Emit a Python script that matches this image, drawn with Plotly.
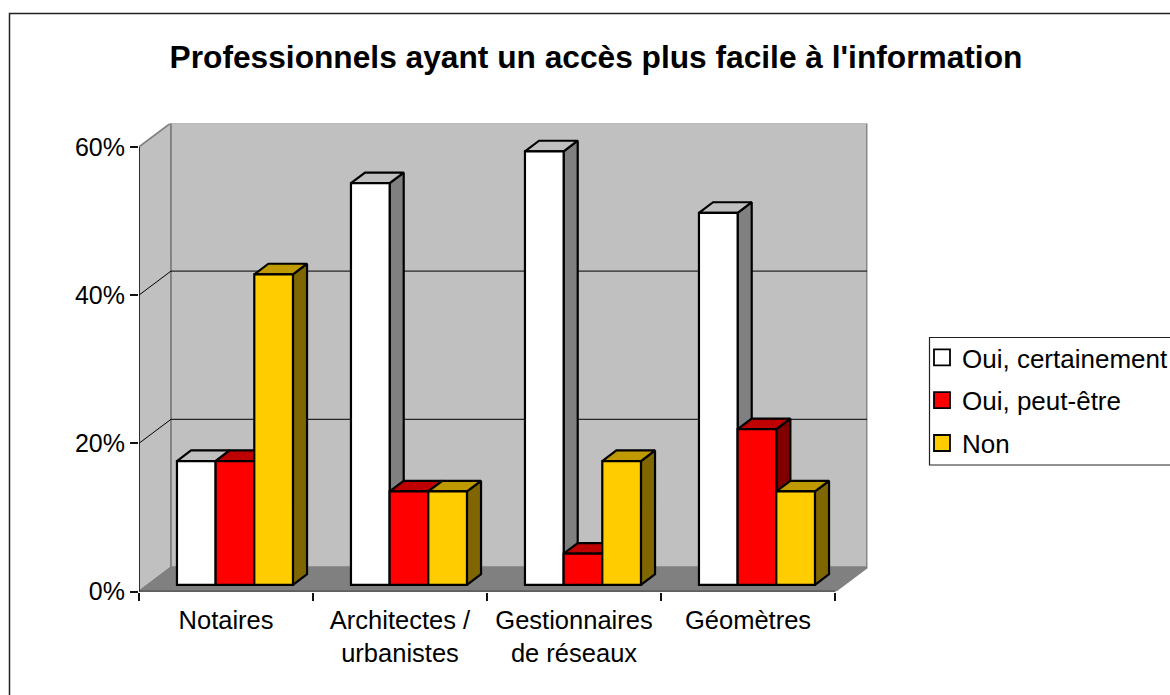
import plotly.graph_objects as go

categories = ["Notaires", "Architectes /<br>urbanistes", "Gestionnaires<br>de réseaux", "Géomètres"]
oui_certainement = [16.7, 54.2, 58.5, 50.2]
oui_peut_etre = [16.7, 12.6, 4.2, 21.0]
non = [41.9, 12.6, 16.7, 12.6]
y_ticks = [0, 20, 40, 60]
y_tick_labels = ["0%", "20%", "40%", "60%"]

W, H = 1170, 695
FONT = "Liberation Sans, Arial, sans-serif"
# Plot box on the page, in pixels
X0_PX, X1_PX = 139.0, 867.5
Y0_PX, Y1_PX = 591.5, 123.5
CAT_PX, PCT_PX = 174.0, 7.41
X_MAX = (X1_PX - X0_PX) / CAT_PX
Y_MAX = (Y0_PX - Y1_PX) / PCT_PX
DEPTH_X = 32.0 / CAT_PX      # depth of the floor, in axis units
DEPTH_Y = 24.0 / PCT_PX
D_FRONT, D_BACK = 0.28, 0.72 # where bars start and end along the depth
BAR_W = 2 / 9
N = len(categories)
y_top = y_ticks[-1]

series = [
    ("Oui, certainement", oui_certainement, "#FFFFFF", "#808080", "#C0C0C0"),
    ("Oui, peut-être", oui_peut_etre, "#FF0000", "#800000", "#BF0000"),
    ("Non", non, "#FFCC00", "#806600", "#BF9900"),
]
OUTLINE = 2.2

fig = go.Figure()


def poly(xs, ys, fill, line, width, **kw):
    fig.add_trace(go.Scatter(x=xs, y=ys, mode="lines", fill="toself", fillcolor=fill,
                             line=dict(color=line, width=width), showlegend=False,
                             hoverinfo="skip", **kw))


def line(xs, ys, color, width):
    fig.add_trace(go.Scatter(x=xs, y=ys, mode="lines", line=dict(color=color, width=width),
                             showlegend=False, hoverinfo="skip"))


# Walls and floor
poly([0, DEPTH_X, DEPTH_X, 0, 0], [0, DEPTH_Y, y_top + DEPTH_Y, y_top, 0], "#C0C0C0", "#808080", 1.8)
poly([DEPTH_X, N + DEPTH_X, N + DEPTH_X, DEPTH_X, DEPTH_X],
     [DEPTH_Y, DEPTH_Y, y_top + DEPTH_Y, y_top + DEPTH_Y, DEPTH_Y], "#C0C0C0", "#808080", 1.8)
poly([0, N, N + DEPTH_X, DEPTH_X, 0], [0, 0, DEPTH_Y, DEPTH_Y, 0], "#808080", "#808080", 1.8)

# Gridlines running over the side wall and the back wall
for t in y_ticks[1:-1]:
    line([0, DEPTH_X, N + DEPTH_X], [t, t + DEPTH_Y, t + DEPTH_Y], "#000000", 1)

# Front axis lines
line([0, 0], [0, y_top], "#111111", 1.5)
line([0, N], [0, 0], "#111111", 1.5)

# Sides and tops of the bars
for j, (name, vals, face, side, top) in enumerate(series):
    sx, sy, tx, ty = [], [], [], []
    for i, v in enumerate(vals):
        left = i + 0.5 + (j - 1.5) * BAR_W
        right = left + BAR_W
        xf, xb = D_FRONT * DEPTH_X, D_BACK * DEPTH_X
        yf, yb = D_FRONT * DEPTH_Y, D_BACK * DEPTH_Y
        sx += [right + xf, right + xb, right + xb, right + xf, right + xf, None]
        sy += [yf, yb, v + yb, v + yf, yf, None]
        tx += [left + xf, left + xb, right + xb, right + xf, left + xf, None]
        ty += [v + yf, v + yb, v + yb, v + yf, v + yf, None]
    poly(sx, sy, side, "#000000", OUTLINE)
    poly(tx, ty, top, "#000000", OUTLINE)

# Front faces of the bars, in an overlaid axis pair so they sit over the sides
for j, (name, vals, face, side, top) in enumerate(series):
    centers = [i + 0.5 + (j - 1) * BAR_W + D_FRONT * DEPTH_X for i in range(N)]
    fig.add_trace(go.Bar(x=centers, y=vals, base=D_FRONT * DEPTH_Y, width=BAR_W, name=name,
                         marker=dict(color=face, line=dict(color="#000000", width=OUTLINE)),
                         xaxis="x2", yaxis="y2", showlegend=False))

# Legend entries
for j, (name, vals, face, side, top) in enumerate(series):
    fig.add_trace(go.Scatter(x=[None], y=[None], mode="markers", name=name, legendgroup=name,
                             marker=dict(symbol="square", size=16, color=face,
                                         line=dict(color="#000000", width=1.8))))

dom_x = [X0_PX / W, X1_PX / W]
dom_y = [(H - Y0_PX) / H, (H - Y1_PX) / H]
fig.update_layout(
    width=W, height=H, autosize=False,
    margin=dict(l=0, r=0, t=0, b=0, pad=0, autoexpand=False),
    paper_bgcolor="#FFFFFF", plot_bgcolor="rgba(0,0,0,0)",
    font=dict(family=FONT, color="#000000", size=25),
    barmode="overlay", showlegend=True,
    title=dict(text="<b>Professionnels ayant un accès plus facile à l'information</b>",
               x=596 / W, xref="paper", xanchor="center",
               y=1 - 57 / H, yref="paper", yanchor="middle",
               font=dict(family=FONT, size=31.7, color="#000000")),
    xaxis=dict(domain=dom_x, range=[0, X_MAX], showgrid=False, zeroline=False, showline=False,
               tickmode="array", tickvals=[i + 0.5 for i in range(N)], ticktext=categories,
               ticks="", tickangle=0, ticklabelstandoff=11,
               minor=dict(tickmode="array", tickvals=list(range(N + 1)), ticks="outside",
                          ticklen=8, tickcolor="#111111", tickwidth=1.5, showgrid=False),
               tickfont=dict(size=25.5)),
    yaxis=dict(domain=dom_y, range=[0, Y_MAX], showgrid=False, zeroline=False, showline=False,
               tickmode="array", tickvals=y_ticks, ticktext=y_tick_labels,
               ticks="outside", ticklen=8, tickcolor="#111111", tickwidth=1.5,
               tickfont=dict(size=25)),
    xaxis2=dict(domain=dom_x, range=[0, X_MAX], overlaying="x", visible=False, anchor="y2"),
    yaxis2=dict(domain=dom_y, range=[0, Y_MAX], overlaying="y", visible=False, anchor="x2"),
    legend=dict(x=922 / W, xanchor="left", y=1 - 334 / H, yanchor="top",
                bgcolor="rgba(0,0,0,0)", borderwidth=0, traceorder="grouped",
                tracegroupgap=6, itemclick=False, itemdoubleclick=False,
                font=dict(family=FONT, size=26, color="#000000")),
    shapes=[
        dict(type="rect", xref="paper", yref="paper", x0=9.5 / W, x1=1.2,
             y0=-0.2, y1=1 - 13.5 / H, line=dict(color="#222222", width=1.5), layer="below"),
        dict(type="rect", xref="paper", yref="paper", x0=929.5 / W, x1=1.2,
             y0=1 - 465 / H, y1=1 - 337.5 / H, line=dict(color="#222222", width=1.2), layer="below"),
    ],
)

fig.write_html(
    "out.html",
    post_script="var s=document.createElement('style');s.textContent='html,body{margin:0;padding:0;overflow:hidden;height:695px}';document.head.appendChild(s);",
    config=dict(displayModeBar=False),
)
